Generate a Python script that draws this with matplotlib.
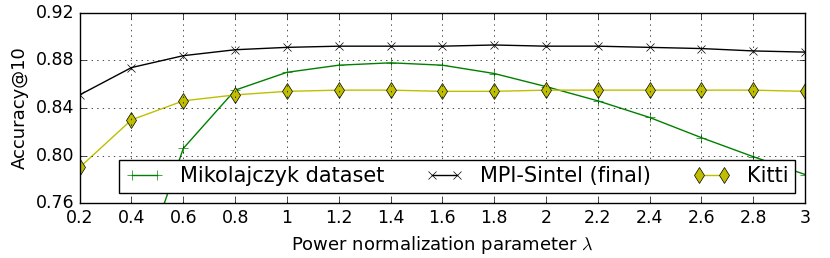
import matplotlib
matplotlib.use('Agg')
from matplotlib import pyplot as plt

# power normalization parameter values
lam = [0.2, 0.4, 0.6, 0.8, 1.0, 1.2, 1.4, 1.6, 1.8, 2.0, 2.2, 2.4, 2.6, 2.8, 3.0]

mikolajczyk = [0.55, 0.68, 0.806, 0.855, 0.870, 0.876, 0.878, 0.876, 0.869,
               0.858, 0.846, 0.832, 0.815, 0.799, 0.784]
sintel = [0.851, 0.874, 0.884, 0.889, 0.891, 0.892, 0.892, 0.892, 0.893,
          0.892, 0.892, 0.891, 0.890, 0.888, 0.887]
kitti = [0.790, 0.830, 0.846, 0.851, 0.854, 0.855, 0.855, 0.854, 0.854,
         0.855, 0.855, 0.855, 0.855, 0.855, 0.854]

xticks = [0.2, 0.4, 0.6, 0.8, 1, 1.2, 1.4, 1.6, 1.8, 2, 2.2, 2.4, 2.6, 2.8, 3]
xticklabels = ['0.2', '0.4', '0.6', '0.8', '1', '1.2', '1.4', '1.6', '1.8',
               '2', '2.2', '2.4', '2.6', '2.8', '3']
yticks = [0.76, 0.80, 0.84, 0.88, 0.92]

plt.style.use('classic')
plt.rcParams['font.family'] = ['DejaVu Sans']

fig = plt.figure(figsize=(8.3, 2.58), dpi=100, facecolor='white')
ax = fig.add_axes([0.096, 0.213, 0.874, 0.737])

ax.plot(lam, mikolajczyk, color='g', marker='+', markersize=7,
        label='Mikolajczyk dataset')
ax.plot(lam, sintel, color='k', marker='x', markersize=6,
        label='MPI-Sintel (final)')
ax.plot(lam, kitti, color='y', marker='d', markersize=8,
        markerfacecolor='#bfbf00', markeredgecolor='k',
        label='Kitti')

ax.set_xlim(0.2, 3)
ax.set_ylim(0.76, 0.92)
ax.set_xticks(xticks)
ax.set_xticklabels(xticklabels)
ax.set_yticks(yticks)
ax.set_yticklabels(['%.2f' % v for v in yticks])
ax.tick_params(labelsize=12.5)
ax.grid(True, linestyle=':', color='k')

ax.set_xlabel(r'Power normalization parameter $\lambda$', fontsize=13)
ax.set_ylabel('Accuracy@10', fontsize=13)

ax.legend(loc='lower right', ncol=3, fontsize=15, numpoints=2,
          borderaxespad=0.5, columnspacing=2.0, handlelength=1.8,
          borderpad=0.3, fancybox=False)

fig.savefig('out.png', dpi=100, facecolor='white')
